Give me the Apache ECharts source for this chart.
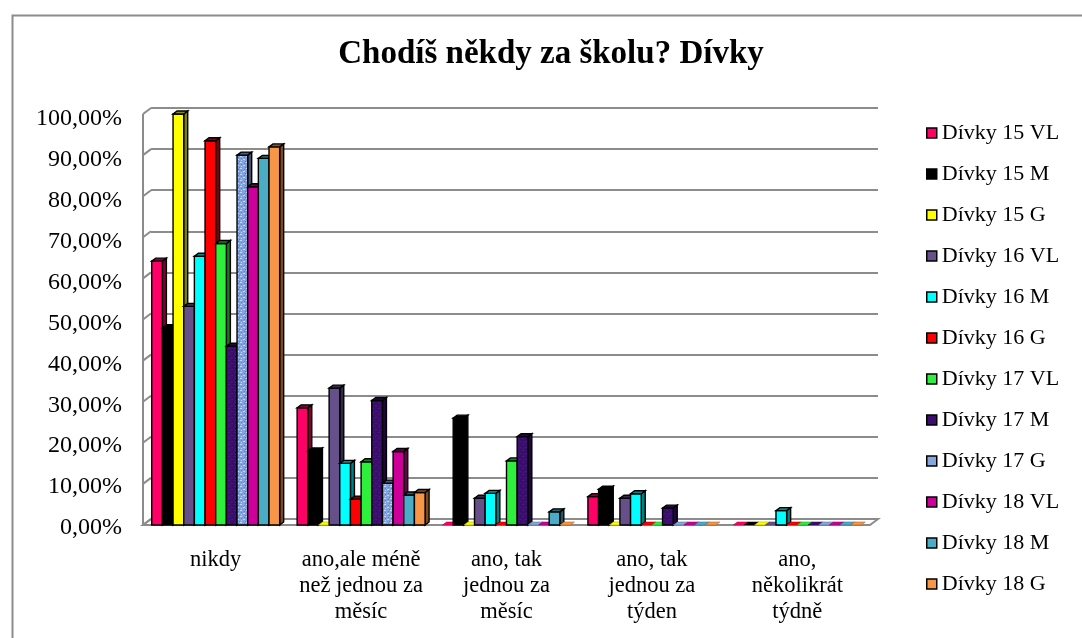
<!DOCTYPE html>
<html><head><meta charset="utf-8">
<script src="https://cdn.jsdelivr.net/npm/echarts@6/dist/echarts.min.js"></script>
<style>html,body{margin:0;padding:0;background:#fff}#c{width:1082px;height:638px}</style>
</head><body><div id="c"></div>
<script>
const titleText = 'Chodíš někdy za školu? Dívky';
const categories = ['nikdy', 'ano,ale méně\nnež jednou za\nměsíc', 'ano, tak\njednou za\nměsíc', 'ano, tak\njednou za\ntýden', 'ano,\nněkolikrát\ntýdně'];
const seriesNames = ['Dívky 15 VL', 'Dívky 15 M', 'Dívky 15 G', 'Dívky 16 VL', 'Dívky 16 M', 'Dívky 16 G', 'Dívky 17 VL', 'Dívky 17 M', 'Dívky 17 G', 'Dívky 18 VL', 'Dívky 18 M', 'Dívky 18 G'];
const seriesColors = ['#ff0066', '#000000', '#ffff00', '#66508a', '#00ffff', '#ff0000', '#2ef03c', '#3c0f6e', '#86a6dc', '#cc0099', '#4bacc6', '#f79646'];
const d15VL = [64.2, 28.5, 0, 6.9, 0];
const d15M  = [48.0, 18.0, 26.0, 8.7, 0];
const d15G  = [100, 0, 0, 0, 0];
const d16VL = [53.2, 33.3, 6.5, 6.5, 0];
const d16M  = [65.4, 15.0, 7.7, 7.6, 3.5];
const d16G  = [93.5, 6.3, 0, 0, 0];
const d17VL = [68.5, 15.4, 15.6, 0, 0];
const d17M  = [43.5, 30.3, 21.5, 4.1, 0];
const d17G  = [90.0, 10.2, 0, 0, 0];
const d18VL = [82.3, 17.9, 0, 0, 0];
const d18M  = [89.2, 7.3, 3.2, 0, 0];
const d18G  = [92.0, 7.9, 0, 0, 0];
const seriesValues = [d15VL, d15M, d15G, d16VL, d16M, d16G, d17VL, d17M, d17G, d18VL, d18M, d18G];
const yMin = 0, yMax = 100, yStep = 10;

const DX = 8, DY = 6;      // wall depth
const BX = 4, BY = 3;      // bar depth
const SERIF = '"Liberation Serif","Times New Roman",serif';

function shade(hex, f) {
  const n = parseInt(hex.slice(1), 16);
  const r = Math.round(((n >> 16) & 255) * f), g = Math.round(((n >> 8) & 255) * f), b = Math.round((n & 255) * f);
  return 'rgb(' + r + ',' + g + ',' + b + ')';
}

// speckled texture fills (style only)
function makeTexture(base, light, dark) {
  const c = document.createElement('canvas');
  c.width = 6; c.height = 6;
  const g = c.getContext('2d');
  g.fillStyle = base; g.fillRect(0, 0, 6, 6);
  g.fillStyle = light; g.fillRect(0, 0, 2, 1); g.fillRect(3, 3, 2, 1); g.fillRect(1, 4, 1, 1);
  g.fillStyle = dark; g.fillRect(4, 1, 1, 1); g.fillRect(1, 2, 1, 1); g.fillRect(5, 5, 1, 1);
  return { image: c, repeat: 'repeat' };
}
const textures = {};
textures[8] = makeTexture('#82a3de', '#c4d6f4', '#5b7cc0');
textures[7] = makeTexture('#3c0f6e', '#47187c', '#330a62');

function barRenderer(sIdx) {
  return function (params, api) {
    const ci = api.value(0), v = api.value(1);
    const base = api.coord([ci, 0]);
    const top = api.coord([ci, v]);
    const catW = api.size([1, 0])[0];
    const slot = catW * 0.88 / seriesNames.length;
    const x0 = base[0] - slot * seriesNames.length / 2 + slot * sIdx - DX;
    const yb = base[1] + DY, yt = top[1] + DY;
    const col = seriesColors[sIdx];
    const stroke = { stroke: '#000', lineWidth: 1.4 };
    const children = [];
    if (yb - yt > 0.5) {
      children.push({ type: 'polygon', shape: { points: [[x0 + slot, yt], [x0 + slot + BX, yt - BY], [x0 + slot + BX, yb - BY], [x0 + slot, yb]] },
        style: Object.assign({ fill: shade(col, 0.5) }, stroke) });
      children.push({ type: 'rect', shape: { x: x0, y: yt, width: slot, height: yb - yt },
        style: Object.assign({ fill: textures[sIdx] || col }, stroke) });
      children.push({ type: 'polygon', shape: { points: [[x0, yt], [x0 + slot, yt], [x0 + slot + BX, yt - BY], [x0 + BX, yt - BY]] },
        style: Object.assign({ fill: shade(col, 0.55) }, stroke) });
    } else {
      children.push({ type: 'polygon', shape: { points: [[x0, yb], [x0 + slot, yb], [x0 + slot + BX, yb - BY], [x0 + BX, yb - BY]] },
        style: { fill: col, stroke: shade(col, 0.6), lineWidth: 0.5 } });
    }
    return { type: 'group', children: children };
  };
}

function wallRenderer(params, api) {
  const cs = params.coordSys;
  const g = '#8c8c8c';
  const children = [];
  const yBot = cs.y + cs.height;
  children.push({ type: 'polygon', shape: { points: [[cs.x - DX, yBot + DY], [cs.x + cs.width - DX, yBot + DY], [cs.x + cs.width, yBot], [cs.x, yBot]] },
    style: { fill: '#fff', stroke: g, lineWidth: 2 } });
  children.push({ type: 'line', shape: { x1: cs.x - DX, y1: cs.y + DY, x2: cs.x - DX, y2: yBot + DY }, style: { stroke: g, lineWidth: 2 } });
  for (let t = yMin; t <= yMax; t += yStep) {
    const y = api.coord([0, t])[1];
    children.push({ type: 'line', shape: { x1: cs.x - DX, y1: y + DY, x2: cs.x, y2: y }, style: { stroke: g, lineWidth: 2 } });
  }
  return { type: 'group', children: children };
}

const series = [{
  type: 'custom', name: '_wall', xAxisIndex: 0, yAxisIndex: 0, silent: true, z: 1, clip: false,
  renderItem: wallRenderer, data: [[0, 0]]
}];
seriesNames.forEach(function (nm, i) {
  series.push({
    type: 'custom', name: nm, xAxisIndex: 0, yAxisIndex: 0, z: 2 + i, clip: false,
    itemStyle: { color: seriesColors[i], borderColor: '#000', borderWidth: 1 },
    renderItem: barRenderer(i),
    encode: { x: 0, y: 1 },
    data: seriesValues[i].map(function (v, k) { return [k, v]; })
  });
});

const chart = echarts.init(document.getElementById('c'), null, { renderer: 'canvas' });
chart.setOption({
  backgroundColor: '#fff',
  animation: false,
  title: {
    text: titleText, left: 546, top: 33, textAlign: 'center',
    textStyle: { fontFamily: SERIF, fontWeight: 'bold', fontSize: 33, color: '#000' }
  },
  graphic: [{ type: 'rect', left: 10, top: 13, shape: { width: 1100, height: 700 }, style: { fill: 'none', stroke: '#8c8c8c', lineWidth: 2 }, silent: true, z: -1 }],
  legend: {
    data: seriesNames, orient: 'vertical', left: 921, top: 117,
    icon: 'rect', itemWidth: 10, itemHeight: 10, itemGap: 19,
    itemStyle: { borderColor: '#000', borderWidth: 1.5 },
    textStyle: { fontFamily: SERIF, fontSize: 22, color: '#000', lineHeight: 22 }
  },
  grid: [
    { left: 151, right: 204, top: 108, bottom: 119 },
    { left: 143, right: 212, top: 119, bottom: 110 }
  ],
  xAxis: [
    { type: 'category', gridIndex: 0, data: categories, axisLine: { show: false }, axisTick: { show: false }, axisLabel: { show: false }, splitLine: { show: false } },
    { type: 'category', gridIndex: 1, data: categories, axisLine: { show: false }, axisTick: { show: false },
      axisLabel: { show: true, interval: 0, margin: 19, fontFamily: SERIF, fontSize: 22.5, lineHeight: 26, color: '#000', align: 'center' } }
  ],
  yAxis: [
    { type: 'value', gridIndex: 0, min: yMin, max: yMax, interval: yStep, axisLine: { show: false }, axisTick: { show: false }, axisLabel: { show: false },
      splitLine: { show: true, lineStyle: { color: '#8c8c8c', width: 2 } } },
    { type: 'value', gridIndex: 1, min: yMin, max: yMax, interval: yStep, axisLine: { show: false }, axisTick: { show: false }, splitLine: { show: false },
      axisLabel: { show: true, margin: 21, fontFamily: SERIF, fontSize: 24, color: '#000', formatter: function (v) { return v.toFixed(2).replace('.', ',') + '%'; } } }
  ],
  series: series
});
</script>
</body></html>
